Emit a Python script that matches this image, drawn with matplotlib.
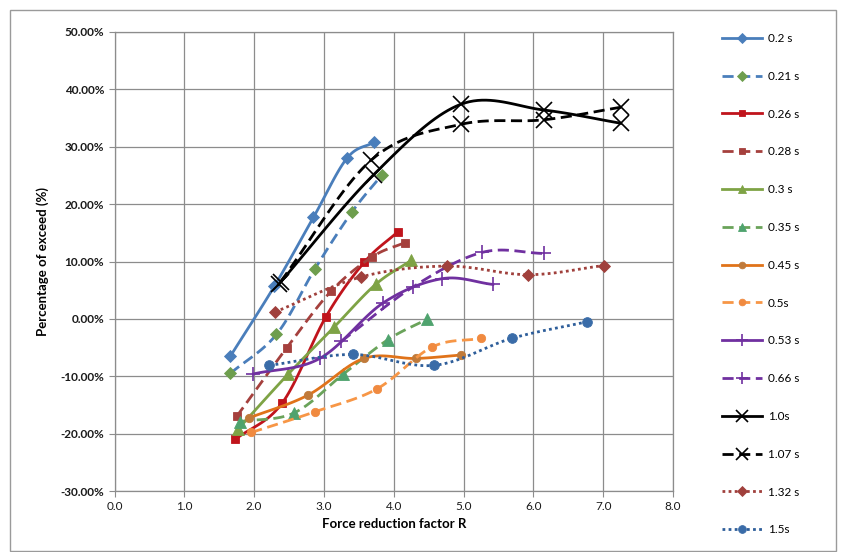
import matplotlib
matplotlib.use('Agg')
import matplotlib.pyplot as plt
import numpy as np
from matplotlib.ticker import FuncFormatter, MultipleLocator
from matplotlib.patches import Rectangle

plt.rcParams['font.family'] = ['Lato', 'DejaVu Sans']

# data: force reduction factor R and percentage of exceed (%)
labels = ['0.2 s', '0.21 s', '0.26 s', '0.28 s', '0.3 s', '0.35 s', '0.45 s',
          '0.5s', '0.53 s', '0.66 s', '1.0s', '1.07 s', '1.32 s', '1.5s']

r_02 = [1.66, 2.29, 2.85, 3.33, 3.72]
p_02 = [-6.5, 5.7, 17.7, 28.0, 30.8]
r_021 = [1.66, 2.32, 2.87, 3.40, 3.83]
p_021 = [-9.5, -2.7, 8.7, 18.6, 25.1]
r_026 = [1.73, 2.40, 3.03, 3.58, 4.06]
p_026 = [-21.0, -14.7, 0.4, 9.9, 15.2]
r_028 = [1.75, 2.47, 3.10, 3.69, 4.16]
p_028 = [-17.0, -5.0, 4.8, 10.8, 13.3]
r_03 = [1.77, 2.49, 3.14, 3.74, 4.25]
p_03 = [-19.2, -9.6, -1.5, 6.0, 10.2]
r_035 = [1.80, 2.57, 3.28, 3.92, 4.47]
p_035 = [-17.9, -16.4, -9.6, -3.6, -0.1]
r_045 = [1.92, 2.77, 3.57, 4.32, 4.97]
p_045 = [-17.3, -13.3, -6.9, -6.9, -6.3]
r_05 = [1.96, 2.87, 3.76, 4.55, 5.25]
p_05 = [-19.8, -16.2, -12.2, -4.9, -3.4]
r_053 = [1.99, 2.94, 3.85, 4.69, 5.42]
p_053 = [-9.6, -6.9, 2.8, 7.0, 6.0]
r_066 = [3.25, 4.28, 5.27, 6.15]
p_066 = [-3.9, 5.6, 11.6, 11.4]
r_10 = [2.35, 3.71, 4.96, 6.15, 7.25]
p_10 = [6.0, 25.1, 37.4, 36.4, 34.1]
r_107 = [2.38, 3.68, 4.96, 6.15, 7.26]
p_107 = [6.5, 27.7, 33.9, 34.7, 36.9]
r_132 = [2.30, 3.53, 4.76, 5.93, 7.01]
p_132 = [1.2, 7.3, 9.2, 7.7, 9.3]
r_15 = [2.22, 3.41, 4.58, 5.69, 6.77]
p_15 = [-8.1, -6.2, -8.1, -3.4, -0.5]

xs = [r_02, r_021, r_026, r_028, r_03, r_035, r_045, r_05, r_053, r_066, r_10, r_107, r_132, r_15]
ys = [p_02, p_021, p_026, p_028, p_03, p_035, p_045, p_05, p_053, p_066, p_10, p_107, p_132, p_15]

# line colour, line style, marker, marker colour, marker size
dash = (0, (4, 2))
dot = (0, (1, 1.2))
styles = [
    ('#4A7EBB', '-', 'D', '#4A7EBB', 6),
    ('#4A7EBB', dash, 'D', '#6E9E4E', 6),
    ('#C0141C', '-', 's', '#C0141C', 6),
    ('#A5403D', dash, 's', '#A5403D', 6),
    ('#7EA345', '-', '^', '#7EA345', 8),
    ('#6AA35A', dash, '^', '#4FA36E', 8),
    ('#E0731A', '-', 'o', '#C07A3A', 6),
    ('#F79646', dash, 'o', '#F08A40', 6),
    ('#7030A0', '-', '+', '#7030A0', 10),
    ('#7030A0', dash, '+', '#7030A0', 10),
    ('#000000', '-', 'x', '#000000', 11),
    ('#000000', dash, 'x', '#000000', 11),
    ('#A0403C', dot, 'D', '#A0403C', 6),
    ('#2E5E9A', dot, 'o', '#3A6CA8', 7),
]


def smooth(x, y, n=20):
    # Catmull-Rom curve through the points, like Excel's smoothed line
    p = np.column_stack([x, y]).astype(float)
    m = np.zeros_like(p)
    m[1:-1] = (p[2:] - p[:-2]) / 2
    m[0] = p[1] - p[0]
    m[-1] = p[-1] - p[-2]
    t = np.linspace(0, 1, n, endpoint=False)[:, None]
    h00 = 2 * t**3 - 3 * t**2 + 1
    h10 = t**3 - 2 * t**2 + t
    h01 = -2 * t**3 + 3 * t**2
    h11 = t**3 - t**2
    pts = []
    for i in range(len(p) - 1):
        pts.append(h00 * p[i] + h10 * m[i] + h01 * p[i + 1] + h11 * m[i + 1])
    pts.append(p[-1:])
    out = np.vstack(pts)
    knots = [i * n for i in range(len(p))]
    return out[:, 0], out[:, 1], knots


fig = plt.figure(figsize=(8.46, 5.52), dpi=100)
fig.patches.append(Rectangle((10 / 846, 0.002), 826 / 846, 1 - 10 / 552 - 0.002,
                             transform=fig.transFigure, fill=False,
                             edgecolor='#9a9a9a', linewidth=1))
ax = fig.add_axes([114.5 / 846, 1 - 491 / 552, (673 - 114.5) / 846, (491 - 32) / 552])

for x, y, lab, (c, ls, mk, mc, ms) in zip(xs, ys, labels, styles):
    cx, cy, knots = smooth(x, y)
    mew = 1.2 if mk in ('+', 'x') else 0.6
    ax.plot(cx, cy, color=c, linestyle=ls, linewidth=2.0, marker=mk, markevery=knots,
            markersize=ms, markerfacecolor=mc, markeredgecolor=mc, markeredgewidth=mew,
            label=lab)

ax.set_xlim(0, 8)
ax.set_ylim(-30, 50)
ax.xaxis.set_major_locator(MultipleLocator(1))
ax.yaxis.set_major_locator(MultipleLocator(10))
ax.xaxis.set_major_formatter(FuncFormatter(lambda v, pos: f'{v:.1f}'))
ax.yaxis.set_major_formatter(FuncFormatter(lambda v, pos: f'{v:.2f}%'))
ax.grid(True, color='#8c8c8c', linewidth=0.9)
ax.set_axisbelow(True)
for s in ax.spines.values():
    s.set_color('#8c8c8c')
    s.set_linewidth(0.9)
ax.tick_params(axis='both', color='#8c8c8c', length=4, labelsize=8.5, labelcolor='#1a1a1a')
for t in ax.get_yticklabels():
    t.set_fontweight('bold')

ax.set_xlabel('Force reduction factor R', fontsize=9.5, fontweight='bold', labelpad=4)
ax.set_ylabel('Percentage of exceed (%)', fontsize=9.5, fontweight='bold', labelpad=8)

fig.legend(loc='upper left', bbox_to_anchor=(722 / 846, 1 - 33 / 552), frameon=False,
           fontsize=8.5, handlelength=3.4, handletextpad=0.5, labelspacing=2.27,
           borderpad=0, borderaxespad=0, markerscale=0.8)

fig.savefig('out.png', dpi=100, facecolor='white')
